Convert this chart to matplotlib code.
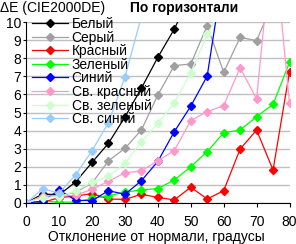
import matplotlib
matplotlib.use("Agg")
import matplotlib.pyplot as plt

plt.rcParams['font.family'] = ['Liberation Sans', 'DejaVu Sans']

# углы отклонения, градусы
angles = [0, 5, 10, 15, 20, 25, 30, 35, 40, 45, 50, 55, 60, 65, 70, 75, 80]

white = [0, 0.5, 0.45, 1.16, 2.24, 3.3, 4.75, 6.34, 8.05, 9.61, 11.5]
gray = [0, 0.35, 0.4, 0.6, 1.1, 2.33, 3.02, 4.03, 5.97, 7.59, 7.68, 9.8, 7.22, 9.15, 8.97, 11.1]
red = [0, 0.03, 0.3, 0.38, 0.52, 0.22, 0.2, 0.48, 0.31, 0.17, 0.87, 0.22, 0.68, 2.98, 4.03, 1.82, 7.25]
green = [0, 0.1, 0.05, 0.05, 0.25, 0.4, 0.6, 0.72, 0.8, 1.27, 2.0, 2.84, 3.88, 4.03, 4.77, 5.45, 7.77]
blue = [0, 0.1, 0.72, 0.15, 0.13, 0.68, 0.48, 1.23, 2.3, 3.94, 5.35, 7.02, 12.9]
light_red = [0, 0.4, 0.4, 0.42, 0.76, 1.2, 1.67, 1.77, 2.34, 2.89, 4.55, 5.05, 5.38, 7.47, 5.75, 15, 5.5]
light_green = [0, 0.3, 0.35, 0.65, 1.15, 1.47, 2.19, 3.39, 4.4, 5.53, 7.2, 9.32, 10.9]
light_blue = [0, 0.79, 0.55, 1.55, 2.89, 4.44, 6.95, 10.3]

series = [
    ("Белый", white, "#000000"),
    ("Серый", gray, "#a0a0a0"),
    ("Красный", red, "#ff0000"),
    ("Зеленый", green, "#00ff00"),
    ("Синий", blue, "#0000ff"),
    ("Св. красный", light_red, "#ff99cc"),
    ("Св. зеленый", light_green, "#ccffcc"),
    ("Св. синий", light_blue, "#99ccff"),
]

fig = plt.figure(figsize=(2.96, 2.44), dpi=100)
ax = fig.add_axes([26.2 / 296, 41 / 244, 263.3 / 296, 181 / 244])

for name, vals, col in series:
    ax.plot(angles[:len(vals)], vals, color=col, lw=0.9, marker="D",
            markersize=3.8, label=name)

ax.set_xlim(0, 80)
ax.set_ylim(0, 10)
ax.set_xticks(range(0, 81, 10))
ax.set_yticks(range(0, 11))
ax.grid(axis="y", color="#c0c0c0", lw=1)
ax.set_axisbelow(True)
for s in ["top", "right"]:
    ax.spines[s].set_visible(False)
ax.spines["left"].set_linewidth(0.8)
ax.spines["bottom"].set_linewidth(0.8)
ax.tick_params(axis="y", length=2.5, width=0.8, pad=1, labelsize=10)
ax.tick_params(axis="x", length=3, width=0.8, pad=6, labelsize=10)

fig.text(0.0, 1 - 8 / 244, "ΔE (CIE2000DE)", fontsize=10, ha="left", va="center")
fig.text(184 / 296, 1 - 8 / 244, "По горизонтали", fontsize=10, fontweight="bold",
         ha="center", va="center")
fig.text(156 / 296, 3 / 244, "Отклонение от нормали, градусы", fontsize=10,
         ha="center", va="baseline")

ax.legend(loc="upper left", bbox_to_anchor=(32 / 296, 1 - 17 / 244),
          bbox_transform=fig.transFigure, frameon=False, fontsize=10,
          borderpad=0, labelspacing=-0.03, handlelength=2.6, handletextpad=0.25,
          borderaxespad=0)

fig.savefig("out.png", dpi=100)
